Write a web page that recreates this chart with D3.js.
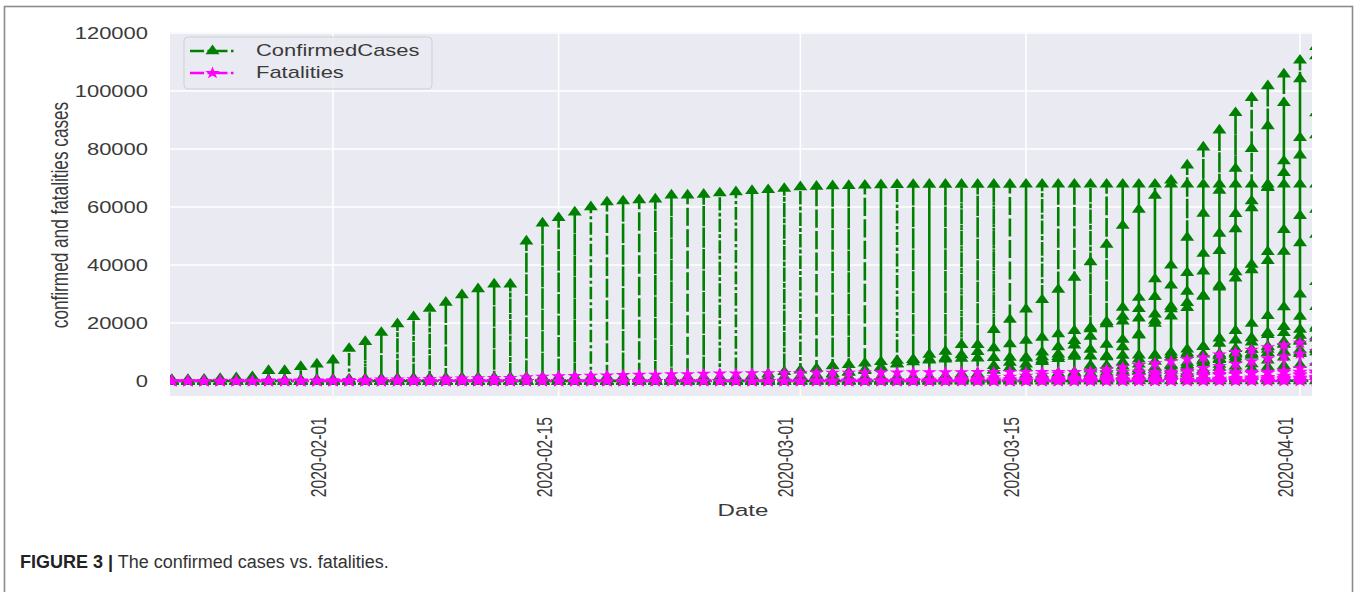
<!DOCTYPE html>
<html>
<head>
<meta charset="utf-8">
<script src="https://cdn.jsdelivr.net/npm/d3@7"></script>
<style>
  html, body { margin: 0; padding: 0; background: #fff; }
  svg { display: block; font-family: "Liberation Sans", Arial, sans-serif; }
</style>
</head>
<body>
<svg id="chart" width="1360" height="592"></svg>
<script>
// ---------------- DATA ----------------
const START_DATE = "2020-01-22";
const END_DATE = "2020-04-02";
const xTickLabels = ["2020-02-01", "2020-02-15", "2020-03-01", "2020-03-15", "2020-04-01"];
const yTickValues = [0, 20000, 40000, 60000, 80000, 100000, 120000];
const seriesNames = ["ConfirmedCases", "Fatalities"];

// Confirmed cases per region (first value is at the given start date; earlier dates are 0)
const afghanistanCases = { from: "2020-02-24", values: [1,1,1,1,1,1, 1,1,1,1,1,1,1,1,4,5,7,7,7,11,16,21,22,22,22,24,24,40,40,74,84,94,110,110,120,170,174, 237,273] };
const austriaCases = { from: "2020-03-01", values: [14,18,21,29,41,55,79,104,131,182,246,302,504,655,860,1018,1332,1646,2013,2388,2814,3582,4474,5283,5588,6909,7657,8271,8788,9618,10180, 10711,11129] };
const belgiumCases = { from: "2020-03-01", values: [2,8,13,23,50,109,169,200,239,267,314,314,559,689,886,1058,1243,1486,1795,2257,2815,3401,3743,4269,4937,6235,7284,9134,10836,11899,12775, 13964,15348] };
const guangdongCases = { from: "2020-01-22", values: [26,32,53,78,111,151,207,277,354,436, 535,632,725,813,895,970,1034,1095,1131,1159,1177,1219,1241,1261,1294,1316,1322,1328,1331,1332,1333,1339,1342,1345,1347,1347,1347,1348,1349, 1349,1350,1350,1350,1351,1352,1352,1352,1352,1353,1356,1356,1356,1356,1360,1361,1364,1370,1378,1395,1400,1413,1415,1428,1433,1448,1456,1467,1475,1477,1485, 1494,1501] };
const hubeiCases = { from: "2020-01-22", values: [444,444,549,761,1058,1423,3554,3554,4903,5806, 7153,11177,13522,16678,19665,22112,24953,27100,29631,31728,33366,33366,48206,54406,56249,58182,59989,61682,62031,62442,62662,64084,64084,64287,64786,65187,65596,65914,66337, 66907,67103,67217,67332,67466,67592,67666,67707,67743,67760,67773,67781,67786,67790,67794,67798,67799,67800,67800,67800,67800,67800,67800,67801,67801,67801,67801,67801,67801,67801,67801, 67802,67802] };
const franceCases = { from: "2020-03-01", values: [130,191,204,285,377,653,949,1126,1209,1784,2281,2281,3661,4469,4499,6633,7652,9043,10871,12612,14282,16018,19856,22304,25233,29155,32964,37575,40174,44550,52128, 56989,59105] };
const germanyCases = { from: "2020-03-01", values: [130,159,196,262,482,670,799,1040,1176,1457,1908,2078,3675,4585,5795,7272,9257,12327,15320,19848,22213,24873,29056,32986,37323,43938,50871,57695,62095,66885,71808, 77872,84794] };
const iranCases = { from: "2020-02-19", values: [2,5,18,28,43,61,95,139,245,388,593, 978,1501,2336,2922,3513,4747,5823,6566,7161,8042,9000,10075,11364,12729,13938,14991,16169,17361,18407,19644,20610,21638,23049,24811,27017,29406,32332,35408,38309,41495,44605, 47593,50468] };
const italyCases = { from: "2020-02-21", values: [20,62,155,229,322,453,655,888,1128, 1694,2036,2502,3089,3858,4636,5883,7375,9172,10149,12462,12462,17660,21157,24747,27980,31506,35713,41035,47021,53578,59138,63927,69176,74386,80589,86498,92472,97689,101739,105792, 110574,115242] };
const koreaCases = { from: "2020-01-22", values: [1,1,2,2,3,4,4,4,4,11, 12,15,15,16,19,23,24,24,25,27,28,28,28,28,28,29,30,31,31,104,204,433,602,833,977,1261,1766,2337,3150, 3736,4335,5186,5621,6088,6593,7041,7314,7478,7513,7755,7869,7979,8086,8162,8236,8320,8413,8565,8652,8799,8897,8961,9037,9137,9241,9332,9478,9583,9661,9786, 9887,9976] };
const netherlandsCases = { from: "2020-03-01", values: [10,18,24,38,82,128,188,265,321,382,503,503,804,959,1135,1413,1705,2051,2460,2994,3631,4204,4749,5560,6412,7431,8603,9762,10866,11750,12595, 13614,14697] };
const spainCases = { from: "2020-02-25", values: [6,13,15,32,45, 84,120,165,222,259,400,500,673,1073,1695,2277,2277,5232,6391,7798,9942,11748,13910,17963,20410,25374,28768,35136,39885,49515,57786,65719,73235,80110,87956,95923, 104118,112065] };
const switzerlandCases = { from: "2020-03-01", values: [27,42,56,90,114,214,268,337,374,491,652,652,1139,1359,2200,2200,2700,3028,4075,5294,6575,7474,8795,9877,10897,11811,12928,14076,14829,15922,16605, 17768,18827] };
const turkeyCases = { from: "2020-03-11", values: [1,1,5,5,6,18,47,98,192,359,670,1236,1529,1872,2433,3629,5698,7402,9217,10827,13531, 15679,18135] };
const californiaCases = { from: "2020-03-10", values: [144,177,221,282,340,426,557,698,751,952,1177,1364,1642,2108,2538,2998,3899,4657,5095,5852,7138,8210, 9399,10773] };
const newJerseyCases = { from: "2020-03-10", values: [15,23,29,50,69,98,178,267,427,742,890,1327,1914,2844,3675,4402,6876,8825,11124,13386,16636,18696, 22255,25590] };
const newYorkCases = { from: "2020-03-10", values: [173,220,328,421,525,732,967,1706,2495,5365,8310,11710,15793,20884,25681,30841,37877,44876,52410,59648,66663,75833, 83889,92381] };
const washingtonCases = { from: "2020-03-10", values: [267,366,442,568,572,643,904,1076,1014,1376,1524,1793,1996,2221,2328,2591,3207,3477,3723,4310,4896,5292, 5608,6389] };
const ukCases = { from: "2020-03-01", values: [36,40,51,86,116,164,207,274,322,384,459,459,802,1144,1145,1551,1960,2642,2716,4014,5067,5745,6726,8164,9640,11812,14745,17312,19780,22453,25481, 29865,34173] };
const zimbabweCases = { from: "2020-03-20", values: [1,3,3,3,3,3,3,5,7,7,7,8, 8,9] };

// Fatalities per region
const afghanistanDeaths = { from: "2020-03-22", values: [1,1,1,2,2,4,4,4,4,4, 4,6] };
const belgiumDeaths = { from: "2020-03-11", values: [3,3,3,4,4,5,10,14,21,37,67,75,88,122,178,220,289,353,431,513,705, 828,1011] };
const hubeiDeaths = { from: "2020-01-22", values: [17,17,24,40,52,76,125,125,162,204, 249,350,414,479,549,618,699,780,871,974,1068,1068,1310,1457,1596,1696,1789,1921,2029,2144,2144,2346,2346,2495,2563,2615,2641,2682,2727, 2761,2803,2835,2871,2902,2931,2959,2986,3008,3024,3046,3056,3062,3075,3085,3099,3111,3122,3130,3133,3139,3153,3153,3160,3163,3169,3174,3177,3182,3186,3187, 3193,3199] };
const franceDeaths = { from: "2020-03-01", values: [2,3,4,4,6,9,11,19,19,33,48,48,79,91,91,148,148,148,243,450,562,674,860,1100,1331,1696,1995,2314,2606,3024,3523, 4403,5387] };
const germanyDeaths = { from: "2020-03-09", values: [2,2,3,3,7,9,11,17,24,28,44,67,84,94,123,157,206,267,342,433,533,645,775, 920,1107] };
const iranDeaths = { from: "2020-02-19", values: [2,2,4,5,8,12,16,19,26,34,43, 54,66,77,92,107,124,145,194,237,291,354,429,514,611,724,853,988,1135,1284,1433,1556,1685,1812,1934,2077,2234,2378,2517,2640,2757,2898, 3036,3160] };
const italyDeaths = { from: "2020-02-21", values: [1,2,3,7,10,12,17,21,29, 34,52,79,107,148,197,233,366,463,631,827,827,1266,1441,1809,2158,2503,2978,3405,4032,4825,5476,6077,6820,7503,8215,9134,10023,10779,11591,12428, 13155,13915] };
const netherlandsDeaths = { from: "2020-03-06", values: [1,1,3,3,4,5,5,10,12,20,24,43,58,76,106,136,179,213,276,356,434,546,639,771,864,1039, 1173,1339] };
const spainDeaths = { from: "2020-03-03", values: [1,2,3,5,10,17,28,35,54,55,133,195,289,342,533,623,830,1043,1375,1772,2311,2808,3647,4365,5138,5982,6803,7716,8464, 9387,10348] };
const newJerseyDeaths = { from: "2020-03-20", values: [16,20,27,44,62,81,108,140,161,198,267,355, 537,646] };
const newYorkDeaths = { from: "2020-03-14", values: [2,3,10,13,16,32,56,80,117,158,210,285,385,527,728,965,1224,1550, 1941,2373] };
const ukDeaths = { from: "2020-03-06", values: [1,2,2,3,4,6,8,8,21,21,56,56,72,138,178,234,282,336,423,466,580,761,1021,1231,1411,1793, 2357,2926] };
const zimbabweDeaths = { from: "2020-03-23", values: [1,1,1,1,1,1,1,1,1, 1,1] };

// Row order inside each date (alphabetical by country / province)
const caseRegions = [afghanistanCases, austriaCases, belgiumCases, guangdongCases, hubeiCases, franceCases, germanyCases, iranCases, italyCases, koreaCases, netherlandsCases, spainCases, switzerlandCases, turkeyCases, californiaCases, newJerseyCases, newYorkCases, washingtonCases, ukCases, zimbabweCases];
const deathRegions = [afghanistanDeaths, belgiumDeaths, hubeiDeaths, franceDeaths, germanyDeaths, iranDeaths, italyDeaths, netherlandsDeaths, spainDeaths, newJerseyDeaths, newYorkDeaths, ukDeaths, zimbabweDeaths];

// ---------------- BUILD ----------------
const parse = d3.utcParse("%Y-%m-%d");
const dates = d3.utcDay.range(parse(START_DATE), d3.utcDay.offset(parse(END_DATE), 1));
function expand(s) {
  const i0 = d3.utcDay.count(parse(START_DATE), parse(s.from));
  return dates.map((d, k) => k < i0 ? 0 : s.values[k - i0]);
}
function buildRows(regions) {
  const full = regions.map(expand);
  const rows = [];
  dates.forEach((d, k) => full.forEach(arr => rows.push({ date: d, value: arr[k] })));
  return rows;
}
const caseRows = buildRows(caseRegions);
const deathRows = buildRows(deathRegions);

// ---------------- LAYOUT ----------------
const svg = d3.select("#chart");
const plot = { left: 170, right: 1312, top: 32, bottom: 396 };
const STRETCH = 1.4;
const textColor = "#3a3a3a";
const green = "#008000", magenta = "#ff00ff";
const dash = "12,3.5,2.5,3.5";

// frame
svg.append("rect").attr("x", 4.5).attr("y", 6.5).attr("width", 1348).attr("height", 620)
  .attr("fill", "none").attr("stroke", "#8c8c8c").attr("stroke-width", 1.6);

const x = d3.scaleUtc()
  .domain([new Date(Date.UTC(2020, 0, 21, 21, 17)), new Date(Date.UTC(2020, 3, 1, 17, 52))])
  .range([plot.left, plot.right]);
const y = d3.scaleLinear().domain([-5172, 120345]).range([plot.bottom, plot.top]);

svg.append("rect").attr("x", plot.left).attr("y", plot.top)
  .attr("width", plot.right - plot.left).attr("height", plot.bottom - plot.top)
  .attr("fill", "#eaeaf2");

const tickDates = xTickLabels.map(parse);
// grid
svg.append("g").selectAll("line").data(yTickValues).join("line")
  .attr("x1", plot.left).attr("x2", plot.right)
  .attr("y1", d => y(d)).attr("y2", d => y(d))
  .attr("stroke", "#fff").attr("stroke-width", 1.5);
svg.append("g").selectAll("line").data(tickDates).join("line")
  .attr("y1", plot.top).attr("y2", plot.bottom)
  .attr("x1", d => x(d)).attr("x2", d => x(d))
  .attr("stroke", "#fff").attr("stroke-width", 1.5);

// clip
svg.append("defs").append("clipPath").attr("id", "clip")
  .append("rect").attr("x", plot.left).attr("y", plot.top)
  .attr("width", plot.right - plot.left).attr("height", plot.bottom - plot.top);
const g = svg.append("g").attr("clip-path", "url(#clip)");

const line = d3.line().x(d => x(d.date)).y(d => y(d.value));
const tri = d3.symbol().type(d3.symbolTriangle).size(54)();
const star = d3.symbol().type(d3.symbolStar).size(48)();

function drawSeries(rows, color, sym, sx) {
  g.append("path").datum(rows).attr("d", line)
    .attr("fill", "none").attr("stroke", color).attr("stroke-width", 2.6)
    .attr("stroke-dasharray", dash).attr("stroke-linejoin", "round");
  g.append("g").selectAll("path").data(rows).join("path")
    .attr("d", sym)
    .attr("transform", d => `translate(${x(d.date)},${y(d.value)}) scale(${sx},1)`)
    .attr("fill", color);
}
drawSeries(caseRows, green, tri, 1.25);
drawSeries(deathRows, magenta, star, 1.2);

// y axis
const yAxis = svg.append("g").attr("transform", "translate(148,0)")
  .call(d3.axisLeft(y).tickValues(yTickValues).tickFormat(d3.format("d")).tickSize(0).tickPadding(0));
yAxis.select(".domain").remove();
yAxis.selectAll("text")
  .attr("x", null).attr("dy", null)
  .attr("transform", `scale(${STRETCH},1)`)
  .attr("text-anchor", "end").attr("dominant-baseline", "central")
  .attr("fill", textColor).style("font-size", "15.7px").style("font-family", "Liberation Sans, Arial, sans-serif");

// x axis
const xAxis = svg.append("g").attr("transform", "translate(0,417)")
  .call(d3.axisBottom(x).tickValues(tickDates).tickFormat(d3.utcFormat("%Y-%m-%d")).tickSize(0).tickPadding(0));
xAxis.select(".domain").remove();
xAxis.selectAll("text")
  .attr("y", null).attr("dy", null)
  .attr("transform", `translate(-15,0) scale(${STRETCH},1) rotate(-90)`)
  .attr("text-anchor", "end").attr("dominant-baseline", "central")
  .attr("fill", textColor).style("font-size", "15.7px").style("font-family", "Liberation Sans, Arial, sans-serif");

// axis titles
svg.append("text").text("Date")
  .attr("transform", `translate(743,510) scale(${STRETCH},1)`)
  .attr("text-anchor", "middle").attr("dominant-baseline", "central")
  .attr("fill", textColor).style("font-size", "17.2px");
svg.append("text").text("confirmed and fatalities cases")
  .attr("transform", `translate(59,215) scale(${STRETCH},1) rotate(-90)`)
  .attr("text-anchor", "middle").attr("dominant-baseline", "central")
  .attr("fill", textColor).style("font-size", "17.2px");

// legend
const lg = svg.append("g");
lg.append("rect").attr("x", 184).attr("y", 37).attr("width", 248).attr("height", 52).attr("rx", 4)
  .attr("fill", "#eaeaf2").attr("fill-opacity", 0.8).attr("stroke", "#cfcfd6").attr("stroke-width", 1);
const legendItems = [
  { name: seriesNames[0], color: green, sym: tri, sx: 1.25, cy: 51 },
  { name: seriesNames[1], color: magenta, sym: star, sx: 1.2, cy: 73 }
];
legendItems.forEach(it => {
  lg.append("line").attr("x1", 190).attr("x2", 235).attr("y1", it.cy).attr("y2", it.cy)
    .attr("stroke", it.color).attr("stroke-width", 2.4).attr("stroke-dasharray", "14,3.5,2.5,3.5");
  lg.append("path").attr("d", it.sym).attr("transform", `translate(212.5,${it.cy}) scale(${it.sx},1)`).attr("fill", it.color);
  lg.append("text").text(it.name)
    .attr("transform", `translate(256,${it.cy}) scale(${STRETCH},1)`)
    .attr("dominant-baseline", "central").attr("fill", textColor).style("font-size", "15.7px");
});

// caption
const cap = svg.append("text").attr("x", 20).attr("y", 562).attr("dominant-baseline", "central")
  .style("font-size", "18px").attr("fill", "#333");
cap.append("tspan").text("FIGURE 3 |").attr("font-weight", "bold").attr("fill", "#222");
cap.append("tspan").text(" The confirmed cases vs. fatalities.");
</script>
</body>
</html>
